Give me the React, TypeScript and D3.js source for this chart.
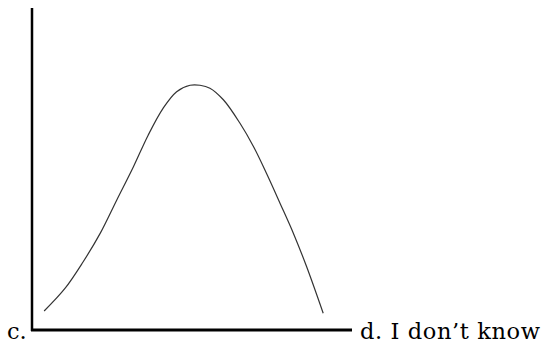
import React from "react";
import * as d3 from "d3";

const curveX = [3.8, 10.3, 16.0, 21.3, 26.5, 31.7, 36.3, 41.0, 45.2, 49.4, 52.5, 55.6, 59.8, 65.0, 69.2, 73.3, 77.5, 81.7, 85.8, 91.0];
const curveY = [5.9, 12.9, 21.2, 30.0, 40.4, 50.7, 60.5, 68.9, 74.0, 76.0, 76.0, 75.1, 71.5, 64.2, 57.0, 48.6, 39.4, 30.0, 19.7, 5.2];
const leftLabel = "c.";
const rightLabel = "d. I don\u2019t know";

const W = 543;
const H = 347;

export default function App() {
  const x = d3.scaleLinear().domain([0, 100]).range([32, 352]);
  const y = d3.scaleLinear().domain([0, 100]).range([330, 8]);
  const pts: [number, number][] = curveX.map((v, i) => [v, curveY[i]]);
  const line = d3
    .line<[number, number]>()
    .x((d) => x(d[0]))
    .y((d) => y(d[1]))
    .curve(d3.curveCatmullRom.alpha(0.5));
  const fontFamily = "'DejaVu Serif', 'Liberation Serif', serif";
  return (
    <svg
      width={W}
      height={H}
      style={{ position: "absolute", left: 0, top: 0, background: "#fff" }}
    >
      <path d={line(pts) || ""} fill="none" stroke="#333" strokeWidth={1.2} />
      <line x1={x(0)} x2={x(0)} y1={y(100)} y2={y(0) + 1} stroke="#000" strokeWidth={2.5} />
      <line x1={x(0) - 1} x2={x(100)} y1={y(0)} y2={y(0)} stroke="#000" strokeWidth={3} />
      <text x={7} y={339} fontFamily={fontFamily} fontSize={22.5} fill="#000">
        {leftLabel}
      </text>
      <text
        x={360}
        y={339}
        fontFamily={fontFamily}
        fontSize={22.5}
        fill="#000"
        textLength={180}
        lengthAdjust="spacing"
      >
        {rightLabel}
      </text>
    </svg>
  );
}
